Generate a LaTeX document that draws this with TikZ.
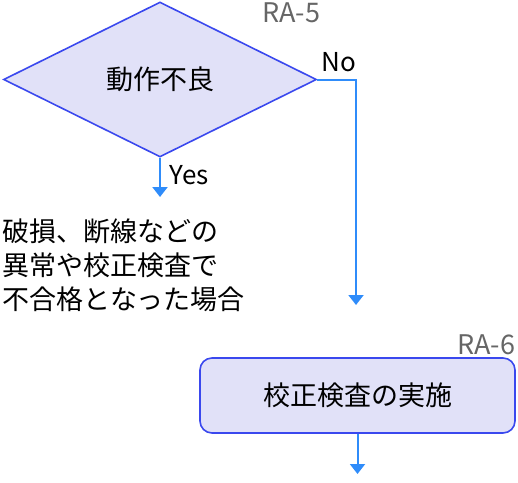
\documentclass[tikz,border=0pt]{standalone}
\usepackage{fontspec}
\setmainfont{Noto Sans CJK JP}
\usetikzlibrary{arrows.meta,shapes.geometric}
\definecolor{boxfill}{HTML}{E1E1F8}
\definecolor{boxrule}{HTML}{3A48EE}
\definecolor{flowblue}{HTML}{2F8CFA}
\definecolor{taggray}{HTML}{666666}
\begin{document}
\begin{tikzpicture}[x=1pt, y=-1pt, line width=1.6pt,
  every node/.style={inner sep=0pt},
  flow/.style={flowblue, line width=2pt, -{Triangle[length=10pt, width=15pt]}},
  decision/.style={diamond, draw=boxrule, fill=boxfill, aspect=2.02,
    minimum width=313pt, minimum height=155pt, font=\fontsize{27}{30}\selectfont},
  process/.style={rectangle, rounded corners=12pt, draw=boxrule, fill=boxfill,
    minimum width=315pt, minimum height=75pt, font=\fontsize{27}{30}\selectfont},
  tag/.style={text=taggray, font=\fontsize{27}{30}\selectfont},
  branch/.style={font=\fontsize{26}{30}\selectfont}]
\useasboundingbox (0,0) rectangle (518,482);

% ---------------- decision RA-5 --------------------------------------------
\node[decision] (ra5) at (160,79.5) {動作不良};
\node[tag, anchor=east] (ra5tag) at (321,13) {RA-5};

% ---------------- yes branch -------------------------------------------------
\coordinate (yesend) at (160,197);
\draw[flow] (ra5.south) -- (yesend);
\node[branch, anchor=west] (yeslbl) at (169,175) {Yes};
\node[anchor=west, align=left, font=\fontsize{27}{34}\selectfont] (cond) at (2,265)
  {破損、断線などの\\異常や校正検査で\\不合格となった場合};

% ---------------- no branch --------------------------------------------------
\coordinate (nocorner) at (356,79.5);
\coordinate (noend) at (356,305);
\draw[flow] (ra5.east) -- (nocorner) -- (noend);
\node[branch, anchor=west] (nolbl) at (321,62) {No};

% ---------------- process RA-6 ---------------------------------------------
\node[process] (ra6) at (357.5,395.5) {校正検査の実施};
\node[tag, anchor=east] (ra6tag) at (516,345) {RA-6};
\coordinate (outend) at (357.5,474);
\draw[flow] (ra6.south) -- (outend);

\end{tikzpicture}
\end{document}
